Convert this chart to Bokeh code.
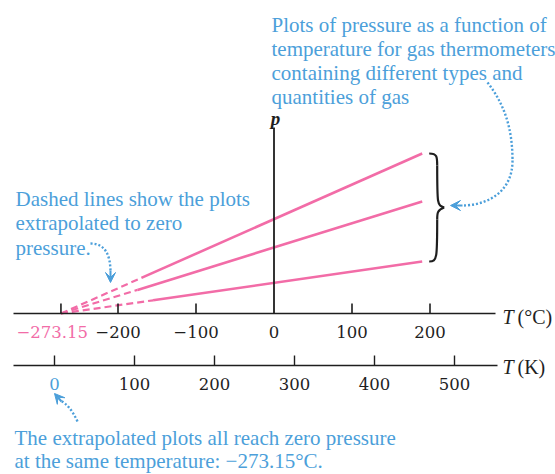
from bokeh.plotting import figure
from bokeh.models import Range1d, Arrow, VeeHead, ColumnDataSource
from bokeh.core.properties import value
from bokeh.embed import file_html
from bokeh.resources import INLINE

# ---------------- data ----------------
celsius_ticks = [-273.15, -200, -100, 100, 200]
celsius_labels = ["\u2212273.15", "\u2212200", "\u2212100", "100", "200"]
celsius_zero_label = ["0"]
kelvin_ticks = [0, 100, 200, 300, 400, 500]
kelvin_labels = ["0", "100", "200", "300", "400", "500"]
absolute_zero_c = -273.15
t_break = [-170, -175, -155]     # °C where the measured (solid) part begins
p_break = [0.89, 0.59, 0.33]     # pressure at that point (arbitrary units)
t_end = [190, 190, 190]          # °C at the end of each plot
p_end = [4.0, 2.8, 1.3]          # pressure at the end (arbitrary units)

top_note = ["Plots of pressure as a function of",
            "temperature for gas thermometers",
            "containing different types and",
            "quantities of gas"]
left_note = ["Dashed lines show the plots",
             "extrapolated to zero",
             "pressure."]
bottom_note = ["The extrapolated plots all reach zero pressure",
               "at the same temperature: \u2212273.15\u00b0C."]

# ---------------- layout ----------------
W, H = 555, 474
XS, X0 = 0.78, 273.5      # px per °C, canvas px of 0 °C
KS, K0 = 0.80, 54.0       # px per K, canvas px of 0 K
YS, Y0 = 40.0, 313.0      # px per pressure unit, canvas px of p = 0

PINK = "#f26ca7"
BLUE = "#4c9fda"
INK = "#1e1e1e"
SERIF = value("Liberation Serif")
NUMF = value("DejaVu Serif")


def X(xr):   # canvas-pixel x -> °C
    return (xr - X0) / XS


def XK(xr):  # canvas-pixel x -> K
    return (xr - K0) / KS


def Y(yr):   # canvas-pixel y -> pressure
    return (Y0 - yr) / YS


p = figure(width=W, height=H, output_backend="svg", toolbar_location=None,
           x_range=Range1d(-X0 / XS, (W - X0) / XS),
           y_range=Range1d((Y0 - H) / YS, Y0 / YS),
           x_axis_type=None, y_axis_type=None, min_border=0)
p.extra_x_ranges = {"K": Range1d(-K0 / KS, (W - K0) / KS)}
p.outline_line_color = None
p.background_fill_color = "white"
p.border_fill_color = "white"

# ---------------- pressure plots ----------------
dashed = ColumnDataSource(dict(
    xs=[[absolute_zero_c, tb] for tb in t_break],
    ys=[[0, pb] for pb in p_break]))
solid = ColumnDataSource(dict(
    xs=[[tb, te] for tb, te in zip(t_break, t_end)],
    ys=[[pb, pe] for pb, pe in zip(p_break, p_end)]))
p.multi_line("xs", "ys", source=dashed, line_color=PINK, line_width=2.2,
             line_dash="7 4")
p.multi_line("xs", "ys", source=solid, line_color=PINK, line_width=2.6)

# ---------------- Celsius axis ----------------
p.segment(x0=[X(13)], y0=[0], x1=[X(495)], y1=[0], line_color=INK, line_width=1.6)
p.segment(x0=celsius_ticks, y0=[0] * len(celsius_ticks), x1=celsius_ticks,
          y1=[10 / YS] * len(celsius_ticks), line_color=INK, line_width=1.6)
# pressure axis
p.segment(x0=[0], y0=[0], x1=[0], y1=[Y(127)], line_color=INK, line_width=1.8)
p.text(x=[X(275)], y=[Y(118)], text=["p"], text_font=SERIF, text_font_size="19px",
       text_font_style="bold italic", text_color=INK, text_align="center",
       text_baseline="middle")

ly = Y(331)
p.text(x=[celsius_ticks[0]], y=[ly], text=[celsius_labels[0]], text_font=NUMF,
       text_font_size="16.5px", text_color=PINK, text_align="right",
       text_baseline="middle", x_offset=27)
p.text(x=celsius_ticks[1:], y=[ly] * 4, text=celsius_labels[1:], text_font=NUMF,
       text_font_size="16.5px", text_color=INK, text_align="center",
       text_baseline="middle")
p.text(x=[0], y=[ly], text=celsius_zero_label, text_font=NUMF,
       text_font_size="16.5px", text_color=INK, text_align="center",
       text_baseline="middle")
p.text(x=[X(502)], y=[Y(316)], text=["T"], text_font=SERIF, text_font_size="20px",
       text_font_style="italic", text_color=INK, text_align="left",
       text_baseline="middle")
p.text(x=[X(502)], y=[Y(316)], text=["(\u00b0C)"], text_font=SERIF,
       text_font_size="20px", text_color=INK, text_align="left",
       text_baseline="middle", x_offset=15)

# ---------------- Kelvin axis ----------------
ky = Y(365)
p.segment(x0=[XK(13)], y0=[ky], x1=[XK(497)], y1=[ky], line_color=INK,
          line_width=1.4, x_range_name="K")
p.segment(x0=kelvin_ticks, y0=[ky] * 6, x1=kelvin_ticks, y1=[ky + 10 / YS] * 6,
          line_color=INK, line_width=1.4, x_range_name="K")
kl = Y(383)
p.text(x=kelvin_ticks[:1], y=[kl], text=kelvin_labels[:1], text_font=NUMF,
       text_font_size="16.5px", text_color=BLUE, text_align="center",
       text_baseline="middle", x_range_name="K")
p.text(x=kelvin_ticks[1:], y=[kl] * 5, text=kelvin_labels[1:], text_font=NUMF,
       text_font_size="16.5px", text_color=INK, text_align="center",
       text_baseline="middle", x_range_name="K")
p.text(x=[X(502)], y=[Y(366)], text=["T"], text_font=SERIF, text_font_size="20px",
       text_font_style="italic", text_color=INK, text_align="left",
       text_baseline="middle")
p.text(x=[X(502)], y=[Y(366)], text=["(K)"], text_font=SERIF,
       text_font_size="20px", text_color=INK, text_align="left",
       text_baseline="middle", x_offset=15)

# ---------------- notes ----------------
def note(lines, xr, yr0, step=24):
    p.text(x=[X(xr)] * len(lines), y=[Y(yr0 + step * i) for i in range(len(lines))],
           text=lines, text_font=SERIF, text_font_size="21px", text_color=BLUE,
           text_align="left", text_baseline="alphabetic")


note(top_note, 271, 24)
note(left_note, 15, 198, 24.5)
note(bottom_note, 14, 437, 23.5)

# ---------------- brace ----------------
bx = t_end[0] + 7 / XS
bt, bb = p_end[0], p_end[2]
bm = (bt + bb) / 2
w = 8 / XS
tip = 15 / XS
r = 12 / YS
p.bezier(x0=[bx, bx + w, bx + tip, bx + w],
         y0=[bt, bt - r, bm, bm - r],
         x1=[bx + w, bx + tip, bx + w, bx],
         y1=[bt - r, bm, bm - r, bb],
         cx0=[bx + w, bx + w, bx + w, bx + w],
         cy0=[bt, bm + r * 0.2, bm - 2 * r * 0.1, bb + r * 0.3],
         cx1=[bx + w, bx + w, bx + w, bx + w],
         cy1=[bt - r * 0.3, bm + 0.2 * r, bm - r * 0.5, bb],
         line_color=INK, line_width=2.2)

# ---------------- dotted arrows ----------------
dot = dict(line_color=BLUE, line_width=2.4, line_dash="2 2")
p.bezier(x0=[X(90), X(487), X(512), X(77)],
         y0=[Y(243), Y(82), Y(160), Y(421)],
         x1=[X(110), X(512), X(462), X(60)],
         y1=[Y(272), Y(160), Y(205), Y(400)],
         cx0=[X(105), X(505), X(512), X(72)],
         cy0=[Y(243), Y(105), Y(195), Y(410)],
         cx1=[X(110), X(512), X(482), X(66)],
         cy1=[Y(255), Y(130), Y(205), Y(403)], **dot)
for (xs, ys, xe, ye) in [(110, 270, 110, 282), (462, 205, 450, 205),
                         (61, 401, 54, 393)]:
    p.add_layout(Arrow(end=VeeHead(size=10, fill_color=BLUE, line_color=BLUE),
                       x_start=X(xs), y_start=Y(ys), x_end=X(xe), y_end=Y(ye),
                       line_color=BLUE, line_width=2))

open("out.html", "w").write(file_html(p, INLINE))
